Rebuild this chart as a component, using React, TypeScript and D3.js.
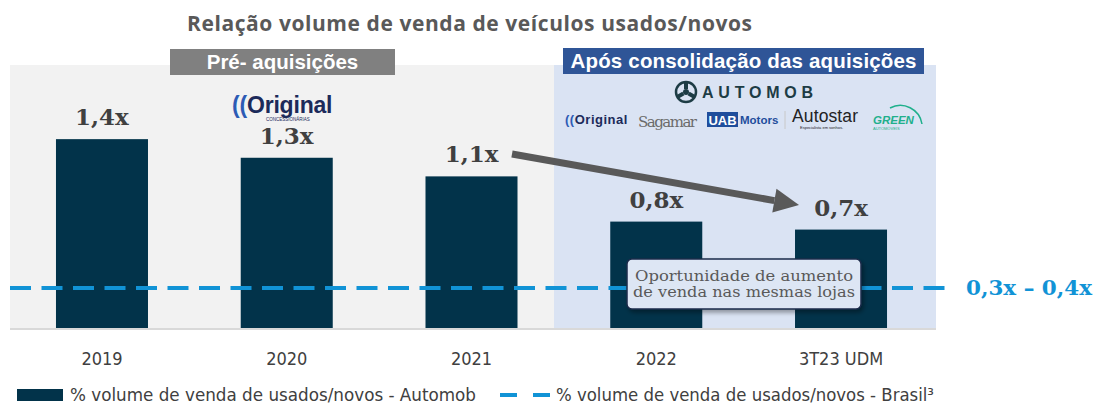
import * as d3 from "d3";

const categories = ["2019", "2020", "2021", "2022", "3T23 UDM"];
const automobValues = [1.42, 1.28, 1.14, 0.8, 0.74];
const valueLabels = ["1,4x", "1,3x", "1,1x", "0,8x", "0,7x"];
const brasilValue = 0.3;
const brasilLabel = "0,3x – 0,4x";
const periodLabels = ["Pré- aquisições", "Após consolidação das aquisições"];
const legendLabels = [
  "% volume de venda de usados/novos - Automob",
  "% volume de venda de usados/novos - Brasil³",
];
const calloutLines = ["Oportunidade de aumento", "de venda nas mesmas lojas"];
const title = "Relação volume de venda de veículos usados/novos";

const W = 1096;
const H = 405;
const BAR = "#02334a";
const DASH = "#1193d6";
const SERIF = "'DejaVu Serif', Georgia, serif";
const NARROW = "'DejaVu Sans Condensed', 'Liberation Sans Narrow', Arial, sans-serif";

export default function App() {
  const x = d3
    .scaleBand<string>()
    .domain(categories)
    .range([9.6, 933.4])
    .paddingInner(0.502)
    .paddingOuter(0.251);
  const y = d3.scaleLinear().domain([0, 1]).range([328, 195]);

  const cx = (c: string) => (x(c) ?? 0) + x.bandwidth() / 2;

  // arrow from 2021 label to 3T23
  const a0 = [512, 154];
  const a1 = [799, 205];
  const ang = Math.atan2(a1[1] - a0[1], a1[0] - a0[0]);
  const headLen = 25;
  const headW = 12;
  const base = [a1[0] - headLen * Math.cos(ang), a1[1] - headLen * Math.sin(ang)];
  const px = -Math.sin(ang);
  const py = Math.cos(ang);
  const head = [
    [a1[0], a1[1]],
    [base[0] + px * headW, base[1] + py * headW],
    [base[0] - px * headW, base[1] - py * headW],
  ];

  const yb = y(brasilValue);

  return (
    <svg
      width={W}
      height={H}
      viewBox={`0 0 ${W} ${H}`}
      style={{ position: "absolute", left: 0, top: 0, background: "#fff" }}
    >
      <defs>
        <filter id="shadow" x="-10%" y="-20%" width="130%" height="160%">
          <feDropShadow dx="2" dy="3" stdDeviation="2" floodColor="#000" floodOpacity="0.35" />
        </filter>
      </defs>

      <text
        x={469.5}
        y={31}
        textAnchor="middle"
        fontFamily="'Open Sans', Arial, sans-serif"
        fontWeight="bold"
        fontSize={21}
        fill="#595959"
        textLength={565}
      >
        {title}
      </text>

      {/* period panels */}
      <rect x={10} y={65} width={544} height={263} fill="#f2f2f2" />
      <rect x={554} y={65} width={382} height={263} fill="#dae3f3" />
      <line x1={10} x2={936} y1={329} y2={329} stroke="#d9d9d9" strokeWidth={2} />

      <rect x={170} y={49} width={225} height={26} fill="#808080" />
      <text
        x={282.5}
        y={69}
        textAnchor="middle"
        fontFamily="'Liberation Sans', Arial, sans-serif"
        fontWeight="bold"
        fontSize={20.5}
        fill="#fff"
      >
        {periodLabels[0]}
      </text>
      <rect x={563} y={48} width={361} height={26} fill="#2f5597" />
      <text
        x={743.5}
        y={68}
        textAnchor="middle"
        fontFamily="'Liberation Sans', Arial, sans-serif"
        fontWeight="bold"
        fontSize={20.5}
        fill="#fff"
        textLength={346}
      >
        {periodLabels[1]}
      </text>

      {/* logos (text approximations) */}
      <g fontFamily="'Liberation Sans', Arial, sans-serif">
        <text x={232} y={113} fontSize={23} fontWeight="bold" fill="#1c2a5a" letterSpacing={-0.5} textLength={100}>
          <tspan fill="#2d5bb5">((</tspan>Original
        </text>
        <text x={266} y={121} fontSize={4.5} fill="#1c2a5a">CONCESSIONÁRIAS</text>

        <g transform="translate(686,92)">
          <circle r={10} fill="none" stroke="#1d3c45" strokeWidth={2.5} />
          <circle r={3} fill="#1d3c45" />
          <path d="M0,-3 L0,-10 M2.6,1.5 L8.7,5 M-2.6,1.5 L-8.7,5" stroke="#1d3c45" strokeWidth={4} />
        </g>
        <text x={702} y={98} fontSize={16} fontWeight="bold" fill="#1d3c45" textLength={111}>
          AUTOMOB
        </text>

        <text x={565} y={124} fontSize={13} fontWeight="bold" fill="#1c2a5a" letterSpacing={-0.4} textLength={62}>
          <tspan fill="#2d5bb5">((</tspan>Original
        </text>
        <text x={638} y={127} fontSize={15} fontFamily={SERIF} fill="#6b6b6b" textLength={59}>
          Sagamar
        </text>
        <rect x={707} y={112} width={31} height={15} fill="#1f4e9c" />
        <text x={722.5} y={124.5} fontSize={13} fontWeight="bold" fill="#fff" textAnchor="middle">
          UAB
        </text>
        <text x={740} y={124} fontSize={11.5} fontWeight="bold" fill="#1f4e9c">
          Motors
        </text>
        <line x1={785} x2={785} y1={111} y2={129} stroke="#c8c8c8" strokeWidth={1} />
        <text x={792} y={122} fontSize={17.5} fill="#222" textLength={66}>
          Autostar
        </text>
        <text x={800} y={129} fontSize={4} fill="#222">Especialista em sonhos.</text>
        <path d="M890,108 A22,22 0 0 1 922,124" fill="none" stroke="#1fb08c" strokeWidth={1.5} />
        <text x={873} y={124} fontSize={11.5} fontWeight="bold" fontStyle="italic" fill="#1fb08c">
          GREEN
        </text>
        <text x={873} y={130} fontSize={4} fill="#1fb08c">AUTOMÓVEIS</text>
      </g>

      {/* bars */}
      {categories.map((c, i) => (
        <rect
          key={c}
          x={x(c)}
          y={y(automobValues[i])}
          width={x.bandwidth()}
          height={y(0) - y(automobValues[i])}
          fill={BAR}
        />
      ))}

      {/* value labels */}
      {categories.map((c, i) => (
        <text
          key={c}
          x={cx(c)}
          y={y(automobValues[i]) - 14}
          textAnchor="middle"
          fontFamily={SERIF}
          fontWeight="bold"
          fontSize={23}
          fill="#404040"
        >
          {valueLabels[i]}
        </text>
      ))}

      {/* Brasil reference */}
      <line
        x1={10}
        x2={948}
        y1={yb}
        y2={yb}
        stroke={DASH}
        strokeWidth={4}
        strokeDasharray="21 10.5"
      />
      <text
        x={966}
        y={yb + 7}
        fontFamily={SERIF}
        fontWeight="bold"
        fontSize={21}
        fill={DASH}
        textLength={126}
        lengthAdjust="spacingAndGlyphs"
      >
        {brasilLabel}
      </text>

      {/* arrow */}
      <line x1={a0[0]} y1={a0[1]} x2={base[0]} y2={base[1]} stroke="#595959" strokeWidth={7} />
      <polygon points={head.map((p) => p.join(",")).join(" ")} fill="#595959" />

      {/* callout */}
      <rect
        x={627}
        y={259}
        width={234}
        height={50}
        rx={5}
        fill="#dde6f4"
        stroke="#1c2b4a"
        strokeWidth={1.5}
        filter="url(#shadow)"
      />
      {calloutLines.map((l, i) => (
        <text
          key={l}
          x={744}
          y={281 + i * 16}
          textAnchor="middle"
          fontFamily={SERIF}
          fontSize={15.5}
          fill="#595959"
          textLength={i === 0 ? 218 : 222}
          lengthAdjust="spacingAndGlyphs"
        >
          {l}
        </text>
      ))}

      {/* x axis labels */}
      {categories.map((c) => (
        <text
          key={c}
          x={cx(c)}
          y={365}
          textAnchor="middle"
          fontFamily={NARROW}
          fontSize={18}
          fill="#404040"
        >
          {c}
        </text>
      ))}

      {/* legend */}
      <rect x={17} y={389} width={46} height={12} fill={BAR} />
      <text
        x={70}
        y={401}
        fontFamily={NARROW}
        fontSize={17}
        fill="#404040"
        textLength={406}
        lengthAdjust="spacingAndGlyphs"
      >
        {legendLabels[0]}
      </text>
      <line
        x1={500}
        x2={552}
        y1={395}
        y2={395}
        stroke={DASH}
        strokeWidth={4}
        strokeDasharray="17 16"
      />
      <text
        x={556}
        y={401}
        fontFamily={NARROW}
        fontSize={17}
        fill="#404040"
        textLength={378}
        lengthAdjust="spacingAndGlyphs"
      >
        {legendLabels[1]}
      </text>
    </svg>
  );
}
